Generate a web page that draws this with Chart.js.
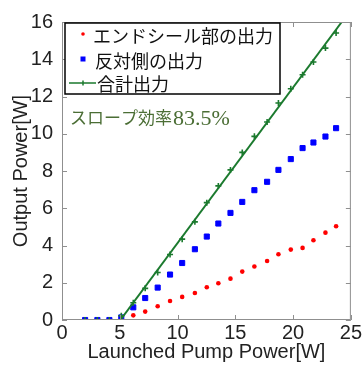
<!DOCTYPE html>
<html>
<head>
<meta charset="utf-8">
<script src="https://cdn.jsdelivr.net/npm/chart.js@4/dist/chart.umd.min.js"></script>
<style>
  html, body { margin: 0; padding: 0; background: #fff; }
  #wrap { width: 363px; height: 365px; }
</style>
</head>
<body>
<div id="wrap"><canvas id="c" width="363" height="365"></canvas></div>
<script>
// Launched pump power [W] for each measurement
const pumpPower   = [2.0, 3.06, 4.1, 5.13, 6.17, 7.2, 8.28, 9.35, 10.4, 11.5, 12.53, 13.53, 14.58, 15.6, 16.65, 17.75, 18.73, 19.8, 20.82, 21.76, 22.8, 23.72];
// Output power [W] at the end-seal side
const endSealOut  = [0, 0, 0, 0.03, 0.25, 0.45, 0.74, 1.02, 1.24, 1.45, 1.76, 1.97, 2.22, 2.6, 2.87, 3.17, 3.53, 3.78, 3.87, 4.28, 4.69, 5.03];
// Output power [W] at the opposite side
const oppositeOut = [0, 0, 0, 0.14, 0.68, 1.18, 1.74, 2.44, 3.06, 3.8, 4.48, 5.18, 5.75, 6.34, 6.97, 7.42, 8.06, 8.64, 9.23, 9.53, 9.85, 10.3];
// Total output power [W]
const totalOut    = [0, 0, 0, 0.23, 0.93, 1.7, 2.55, 3.52, 4.34, 5.27, 6.3, 7.2, 8.06, 9.0, 9.86, 10.63, 11.65, 12.42, 13.17, 13.85, 14.6, 15.41];

// Linear fit of the total output (slope 0.835 = 83.5 %)
const fitPump = [5.05, 24.21];
const fitOut  = [0, 16.0];

const seriesNames = ['エンドシール部の出力', '反対側の出力', '合計出力'];
const slopeLabel  = ['スロープ効率', '83.5%'];
const slopeLabelAt = [0.7, 10.85];   // data position of the slope label

const xTicks = [0, 5, 10, 15, 20, 25];
const yTicks = [0, 2, 4, 6, 8, 10, 12, 14, 16];

const RED = '#ff0000', BLUE = '#0000ff', GREEN = '#1b7a2e', SLOPE_TXT = '#4b6e35';
const TXT = '#222222', FRAME = '#8f8f8f';

const pts = (xs, ys) => xs.map((x, i) => ({ x, y: ys[i] }));

// Box frame with inward tick marks on all four sides
const framePlugin = {
  id: 'frame',
  afterDatasetsDraw(chart) {
    const { ctx, chartArea: a, scales: { x, y } } = chart;
    ctx.save();
    ctx.strokeStyle = FRAME;
    ctx.lineWidth = 1;
    ctx.strokeRect(a.left + 0.5, a.top + 0.5, a.right - a.left - 1, a.bottom - a.top - 1);
    const L = 5;
    ctx.beginPath();
    xTicks.forEach(v => {
      const px = Math.round(x.getPixelForValue(v)) + 0.5;
      ctx.moveTo(px, a.bottom); ctx.lineTo(px, a.bottom - L);
      ctx.moveTo(px, a.top); ctx.lineTo(px, a.top + L);
    });
    yTicks.forEach(v => {
      const py = Math.round(y.getPixelForValue(v)) + 0.5;
      ctx.moveTo(a.left, py); ctx.lineTo(a.left + L, py);
      ctx.moveTo(a.right, py); ctx.lineTo(a.right - L, py);
    });
    ctx.stroke();
    ctx.restore();
  }
};

// Slope-efficiency note and the boxed legend inside the plot
const notesPlugin = {
  id: 'notes',
  afterDraw(chart) {
    const { ctx, chartArea: a, scales: { x, y } } = chart;
    ctx.save();
    // slope label
    const lx = x.getPixelForValue(slopeLabelAt[0]);
    const ly = y.getPixelForValue(slopeLabelAt[1]);
    ctx.fillStyle = SLOPE_TXT;
    ctx.textBaseline = 'middle';
    ctx.textAlign = 'left';
    ctx.font = "17px 'Noto Sans CJK JP'";
    ctx.fillText(slopeLabel[0], lx, ly);
    const w0 = ctx.measureText(slopeLabel[0]).width;
    ctx.font = "22px 'Liberation Serif', 'DejaVu Serif', serif";
    ctx.fillText(slopeLabel[1], lx + w0 + 1, ly + 1);

    // legend box
    const bx = a.left + 3, by = a.top + 1, bw = 215, bh = 71;
    ctx.fillStyle = '#ffffff';
    ctx.fillRect(bx, by, bw, bh);
    ctx.strokeStyle = '#000000';
    ctx.lineWidth = 1.5;
    ctx.strokeRect(bx, by, bw, bh);

    const rowY = [by + 13, by + 38, by + 61];
    const mx = bx + 18;
    // end-seal: red dot
    ctx.fillStyle = RED;
    ctx.beginPath(); ctx.arc(mx, rowY[0] - 2, 1.8, 0, Math.PI * 2); ctx.fill();
    // opposite: blue square
    ctx.fillStyle = BLUE;
    ctx.fillRect(mx - 2.5, rowY[1] - 4.5, 5, 5);
    // total: line with cross marker
    ctx.strokeStyle = GREEN;
    ctx.lineWidth = 1.5;
    ctx.beginPath();
    ctx.moveTo(bx + 4, rowY[2] - 1); ctx.lineTo(bx + 31, rowY[2] - 1);
    ctx.moveTo(mx, rowY[2] - 3.5); ctx.lineTo(mx, rowY[2] + 1.5);
    ctx.stroke();

    ctx.fillStyle = '#111111';
    ctx.font = "18px 'Noto Sans CJK JP'";
    ctx.textBaseline = 'middle';
    ctx.fillText(seriesNames[0], bx + 28, rowY[0]);
    ctx.fillText(seriesNames[1], bx + 30, rowY[1]);
    ctx.fillText(seriesNames[2], bx + 32, rowY[2]);
    ctx.restore();
  }
};

new Chart(document.getElementById('c'), {
  type: 'scatter',
  data: {
    datasets: [
      {
        label: seriesNames[0],
        data: pts(pumpPower, endSealOut),
        pointStyle: 'circle', pointRadius: 2.3, borderWidth: 0,
        backgroundColor: RED, borderColor: RED, order: 4
      },
      {
        label: seriesNames[1],
        data: pts(pumpPower, oppositeOut),
        pointStyle: 'rect', pointRadius: 3.6, borderWidth: 1,
        backgroundColor: BLUE, borderColor: BLUE, order: 3
      },
      {
        label: 'fit',
        type: 'line',
        data: pts(fitPump, fitOut),
        borderColor: GREEN, borderWidth: 2, pointRadius: 0, fill: false,
        order: 2
      },
      {
        label: seriesNames[2],
        data: pts(pumpPower, totalOut),
        pointStyle: 'cross', pointRadius: 3, borderWidth: 1.6,
        backgroundColor: GREEN, borderColor: GREEN, order: 1
      }
    ]
  },
  options: {
    responsive: false,
    animation: false,
    devicePixelRatio: 1,
    layout: { padding: { top: 22, right: 12, left: 0, bottom: 0 } },
    plugins: { legend: { display: false }, tooltip: { enabled: false } },
    scales: {
      x: {
        type: 'linear', min: 0, max: 25,
        afterBuildTicks: s => { s.ticks = xTicks.map(v => ({ value: v })); },
        afterFit: s => { s.height = 45; },
        grid: { display: false, drawTicks: false },
        border: { display: false },
        ticks: { color: TXT, font: { family: "'Liberation Sans'", size: 20 }, padding: 1, maxRotation: 0 },
        title: {
          display: true, text: 'Launched Pump Power[W]', color: TXT,
          font: { family: "'Liberation Sans'", size: 20 }, padding: { top: 0, bottom: 1 }
        }
      },
      y: {
        type: 'linear', min: 0, max: 16,
        afterBuildTicks: s => { s.ticks = yTicks.map(v => ({ value: v })); },
        afterFit: s => { s.width = 62; },
        grid: { display: false, drawTicks: false },
        border: { display: false },
        ticks: { color: TXT, font: { family: "'Liberation Sans'", size: 20 }, padding: 9 },
        title: {
          display: true, text: 'Output Power[W]', color: TXT,
          font: { family: "'Liberation Sans'", size: 20 }, padding: { top: 9, bottom: 0 }
        }
      }
    }
  },
  plugins: [framePlugin, notesPlugin]
});
</script>
</body>
</html>
